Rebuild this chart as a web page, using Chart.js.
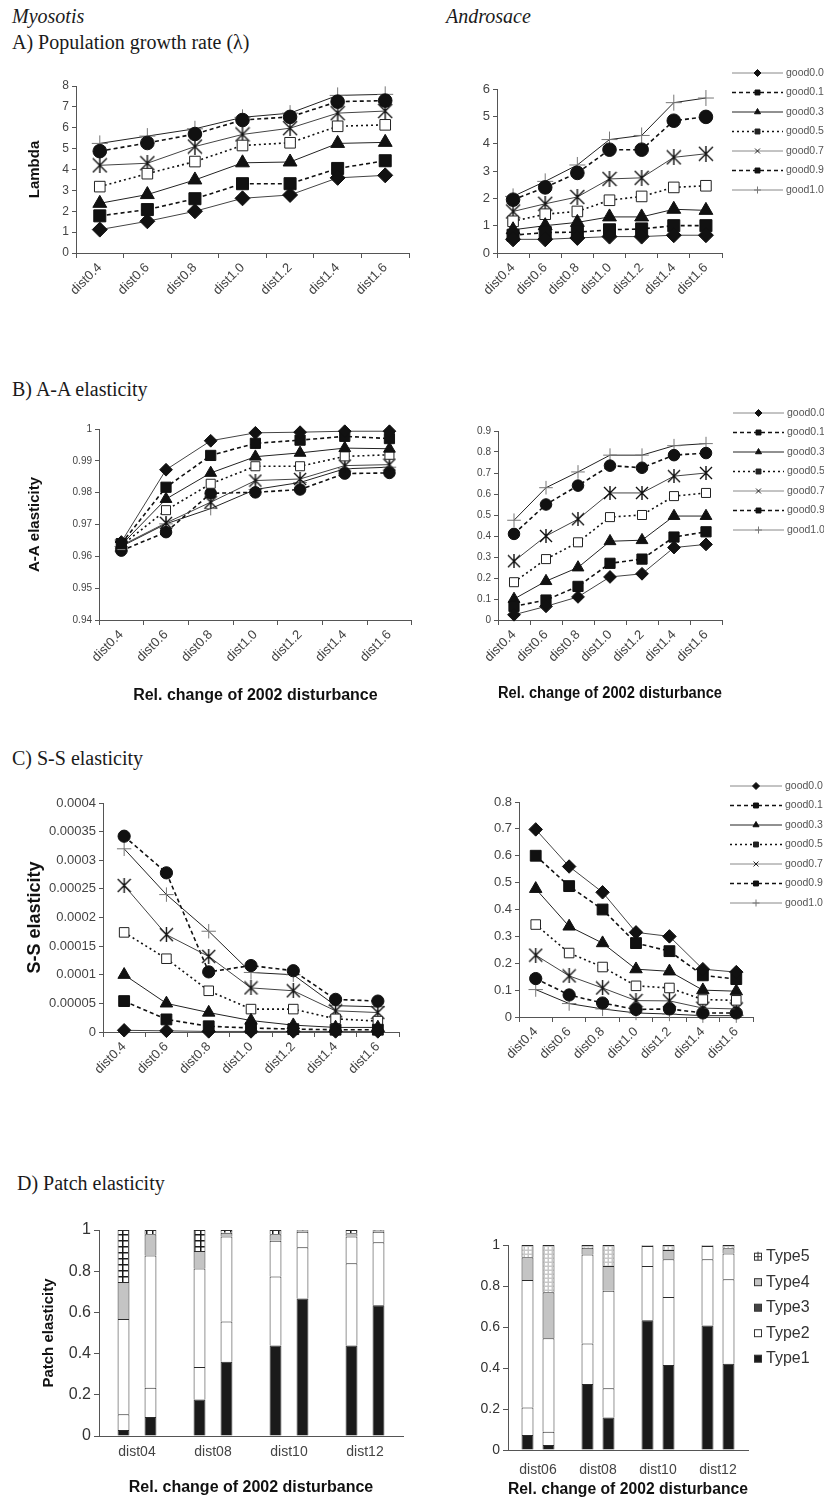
<!DOCTYPE html>
<html>
<head>
<meta charset="utf-8">
<script src="https://cdn.jsdelivr.net/npm/chart.js@4.4.0/dist/chart.umd.min.js"></script>
<style>
  body { margin: 0; background: #fff; width: 824px; height: 1499px; position: relative; overflow: hidden; }
  .t { position: absolute; font-family: "Liberation Serif", serif; font-size: 20px; line-height: 20px; color: #1a1a1a; white-space: nowrap; }
  .i { font-style: italic; }
  canvas { position: absolute; }
</style>
</head>
<body>
<div class="t i" style="left:12px;top:6px">Myosotis</div>
<div class="t i" style="left:446px;top:6px">Androsace</div>
<div class="t" style="left:12px;top:32px">A) Population growth rate (λ)</div>
<div class="t" style="left:12px;top:379px">B) A-A elasticity</div>
<div class="t" style="left:12px;top:748px">C) S-S elasticity</div>
<div class="t" style="left:17px;top:1173px">D) Patch elasticity</div>

<canvas id="aL" width="420" height="270" style="left:0px;top:60px"></canvas>
<canvas id="aR" width="404" height="270" style="left:420px;top:60px"></canvas>
<canvas id="bL" width="420" height="310" style="left:0px;top:400px"></canvas>
<canvas id="bR" width="404" height="310" style="left:420px;top:400px"></canvas>
<canvas id="cL" width="420" height="300" style="left:0px;top:780px"></canvas>
<canvas id="cR" width="404" height="300" style="left:420px;top:780px"></canvas>
<canvas id="dL" width="420" height="309" style="left:0px;top:1190px"></canvas>
<canvas id="dR" width="404" height="309" style="left:420px;top:1190px"></canvas>

<script>
// ---- data ----
const distLabels = ['dist0.4', 'dist0.6', 'dist0.8', 'dist1.0', 'dist1.2', 'dist1.4', 'dist1.6'];
const goodLabels = ['good0.0', 'good0.1', 'good0.3', 'good0.5', 'good0.7', 'good0.9', 'good1.0'];

// rows follow goodLabels
const myoLambda = [
  [1.12, 1.52, 2.0, 2.62, 2.78, 3.6, 3.72],
  [1.78, 2.08, 2.6, 3.32, 3.32, 4.05, 4.42],
  [2.38, 2.8, 3.5, 4.32, 4.36, 5.25, 5.3],
  [3.18, 3.8, 4.38, 5.15, 5.28, 6.07, 6.14],
  [4.2, 4.3, 5.1, 5.68, 5.98, 6.7, 6.8],
  [4.88, 5.27, 5.7, 6.37, 6.52, 7.25, 7.3],
  [5.25, 5.6, 5.95, 6.5, 6.7, 7.55, 7.6]
];
const andLambda = [
  [0.5, 0.5, 0.55, 0.6, 0.6, 0.65, 0.65],
  [0.65, 0.75, 0.76, 0.85, 0.88, 1.0, 1.0],
  [0.85, 1.0, 1.12, 1.32, 1.32, 1.6, 1.56],
  [1.16, 1.42, 1.52, 1.93, 2.07, 2.4, 2.46],
  [1.52, 1.8, 2.05, 2.71, 2.75, 3.5, 3.63],
  [1.95, 2.4, 2.93, 3.78, 3.78, 4.84, 4.98],
  [2.07, 2.62, 3.22, 4.15, 4.3, 5.5, 5.67]
];
const myoAA = [
  [0.9645, 0.9872, 0.9963, 0.9988, 0.999, 0.9993, 0.9993],
  [0.964, 0.9817, 0.9917, 0.9955, 0.9965, 0.9977, 0.997],
  [0.9636, 0.978, 0.9862, 0.9913, 0.9925, 0.994, 0.9938],
  [0.9634, 0.9745, 0.9828, 0.9883, 0.9883, 0.9914, 0.9919],
  [0.9634, 0.9705, 0.977, 0.9838, 0.9843, 0.9885, 0.9888],
  [0.9618, 0.9676, 0.9798, 0.9801, 0.981, 0.986, 0.9862],
  [0.9631, 0.9702, 0.975, 0.981, 0.9832, 0.9875, 0.988]
];
const andAA = [
  [0.025, 0.065, 0.11, 0.205, 0.22, 0.345, 0.36],
  [0.065, 0.095, 0.16, 0.27, 0.29, 0.395, 0.42],
  [0.1, 0.185, 0.25, 0.375, 0.38, 0.495, 0.495],
  [0.18, 0.29, 0.37, 0.49, 0.5, 0.59, 0.605],
  [0.28, 0.4, 0.48, 0.605, 0.605, 0.685, 0.7],
  [0.41, 0.55, 0.64, 0.735, 0.725, 0.785, 0.795],
  [0.475, 0.63, 0.705, 0.785, 0.785, 0.83, 0.84]
];
const myoSS = [
  [0.000003, 0.000002, 0.000001, 0.000001, 0.000001, 0.000001, 0.000001],
  [0.000054, 0.000022, 0.00001, 0.000007, 0.000005, 0.000004, 0.000004],
  [0.0001, 0.00005, 0.000034, 0.00002, 0.000012, 0.000008, 0.000008],
  [0.000174, 0.000128, 0.000072, 0.00004, 0.00004, 0.000023, 0.000019],
  [0.000256, 0.00017, 0.000132, 0.000077, 0.000072, 0.000037, 0.000034],
  [0.000342, 0.000278, 0.000105, 0.000116, 0.000107, 0.000057, 0.000054],
  [0.00032, 0.00024, 0.000176, 0.000104, 0.0001, 0.000046, 0.000044]
];
const andSS = [
  [0.698, 0.56, 0.464, 0.315, 0.3, 0.178, 0.167],
  [0.6, 0.487, 0.4, 0.275, 0.245, 0.155, 0.141],
  [0.477, 0.337, 0.275, 0.178, 0.17, 0.1, 0.096],
  [0.344, 0.238, 0.186, 0.116, 0.108, 0.065, 0.062],
  [0.23, 0.153, 0.108, 0.061, 0.06, 0.033, 0.03],
  [0.143, 0.082, 0.052, 0.028, 0.03, 0.015, 0.015],
  [0.102, 0.05, 0.03, 0.015, 0.011, 0.005, 0.005]
];

const typeLabels = ['Type1', 'Type2', 'Type3', 'Type4', 'Type5'];
const myoPatchCats = ['dist04', 'dist08', 'dist10', 'dist12'];
const andPatchCats = ['dist06', 'dist08', 'dist10', 'dist12'];
// eight bars left to right (two per category), rows follow typeLabels
const myoPatch = [
  [0.029, 0.092, 0.177, 0.360, 0.439, 0.668, 0.439, 0.635],
  [0.076, 0.142, 0.158, 0.196, 0.335, 0.248, 0.400, 0.305],
  [0.463, 0.642, 0.478, 0.412, 0.174, 0.076, 0.129, 0.052],
  [0.179, 0.103, 0.085, 0.019, 0.031, 0.004, 0.016, 0.004],
  [0.253, 0.021, 0.102, 0.013, 0.021, 0.004, 0.016, 0.004]
];
const andPatch = [
  [0.073, 0.024, 0.322, 0.158, 0.633, 0.415, 0.607, 0.421],
  [0.134, 0.065, 0.198, 0.143, 0.265, 0.331, 0.323, 0.412],
  [0.622, 0.456, 0.434, 0.476, 0.097, 0.184, 0.065, 0.126],
  [0.111, 0.224, 0.033, 0.121, 0.003, 0.046, 0.003, 0.025],
  [0.060, 0.231, 0.013, 0.102, 0.002, 0.024, 0.002, 0.016]
];

// ---- styles ----
const markStyles = ['rectRot', 'rect', 'triangle', 'rect', 'star', 'circle', 'cross'];
const markSizes = [7.5, 8.5, 8, 7.5, 8, 6.8, 8];
const markFills = ['#111', '#111', '#111', '#fff', '#111', '#111', '#777'];
const markEdges = ['#111', '#111', '#111', '#222', '#222', '#111', '#777'];
const lineColors = ['#444', '#111', '#222', '#111', '#444', '#111', '#222'];
const lineWidths = [1, 1.6, 1, 1.6, 1, 1.6, 1];
const lineDashes = [[], [4, 3], [], [2, 3], [], [4, 3], []];
const legendColors = ['#888', '#111', '#222', '#111', '#888', '#111', '#888'];
const legendPoints = ['rectRot', 'rect', 'triangle', 'rect', 'crossRot', 'rect', 'cross'];

Chart.defaults.font.family = '"Liberation Sans", Arial, sans-serif';

const lineLegend = {
  id: 'lineLegend',
  afterDraw(chart, args, opts) {
    if (!opts || !opts.show) return;
    const ctx = chart.ctx;
    chart.data.datasets.forEach((ds, i) => {
      const x = opts.x, y = opts.y + i * opts.gap;
      ctx.save();
      ctx.strokeStyle = ds.legendColor;
      ctx.lineWidth = ds.borderWidth;
      ctx.setLineDash(ds.borderDash);
      ctx.beginPath();
      ctx.moveTo(x, y);
      ctx.lineTo(x + opts.len, y);
      ctx.stroke();
      ctx.setLineDash([]);
      ctx.fillStyle = ds.legendMark;
      ctx.strokeStyle = ds.legendMark;
      ctx.lineWidth = 1;
      Chart.helpers.drawPoint(ctx, { pointStyle: ds.legendPoint, radius: 3.5, borderWidth: 1, rotation: 0 }, x + opts.len / 2, y);
      ctx.fillStyle = '#555';
      ctx.font = '10.5px "Liberation Sans"';
      ctx.textBaseline = 'middle';
      ctx.textAlign = 'left';
      ctx.fillText(ds.label, x + opts.len + 3, y);
      ctx.restore();
    });
  }
};

const boxLegend = {
  id: 'boxLegend',
  afterDraw(chart, args, opts) {
    if (!opts || !opts.show) return;
    const ctx = chart.ctx;
    const fills = ['#1a1a1a', '#fff', '#444', '#c4c4c4', '#fff'];
    for (let k = 0; k < typeLabels.length; k++) {
      const t = typeLabels.length - 1 - k;
      const x = opts.x, y = opts.y + k * opts.gap;
      ctx.save();
      ctx.fillStyle = fills[t];
      ctx.strokeStyle = '#333';
      ctx.lineWidth = 1;
      ctx.fillRect(x - 3.5, y - 3.5, 7, 7);
      ctx.strokeRect(x - 3.5, y - 3.5, 7, 7);
      if (t === 4) {
        ctx.beginPath();
        ctx.moveTo(x - 3.5, y); ctx.lineTo(x + 3.5, y);
        ctx.moveTo(x, y - 5); ctx.lineTo(x, y + 3.5);
        ctx.stroke();
      }
      ctx.fillStyle = '#333';
      ctx.font = '16px "Liberation Sans"';
      ctx.textBaseline = 'middle';
      ctx.fillText(typeLabels[t], x + 8, y);
      ctx.restore();
    }
  }
};

Chart.register(lineLegend, boxLegend);

// asterisk marker: an X with a vertical stroke
function starMark(size) {
  const c = document.createElement('canvas');
  c.width = c.height = size;
  const g = c.getContext('2d');
  g.strokeStyle = '#111';
  g.lineWidth = 1.4;
  g.beginPath();
  g.moveTo(1, 1); g.lineTo(size - 1, size - 1);
  g.moveTo(size - 1, 1); g.lineTo(1, size - 1);
  g.moveTo(size / 2, 0); g.lineTo(size / 2, size);
  g.stroke();
  return c;
}

function yTitle(text, size, pad) {
  if (!text) return { display: false };
  return { display: true, text: text, color: '#111', font: { size: size, weight: 'bold' }, padding: { top: pad, bottom: 0 } };
}

function xTitle(text, pad) {
  if (!text) return { display: false };
  return { display: true, text: text, color: '#111', font: { size: 16, weight: 'bold' }, padding: { top: 0, bottom: pad } };
}

function lineChart(id, rows, o) {
  const star = starMark(o.star);
  const datasets = rows.map((vals, i) => ({
    label: goodLabels[i],
    data: vals,
    borderColor: lineColors[i],
    borderWidth: lineWidths[i],
    borderDash: lineDashes[i],
    pointStyle: markStyles[i] === 'star' ? star : markStyles[i],
    pointRadius: markSizes[i] * o.mk,
    pointHoverRadius: markSizes[i] * o.mk,
    pointBackgroundColor: markFills[i],
    pointBorderColor: markEdges[i],
    pointBorderWidth: 1,
    legendColor: legendColors[i],
    legendPoint: legendPoints[i],
    legendMark: markEdges[i],
    tension: 0,
    clip: false
  }));
  return new Chart(document.getElementById(id), {
    type: 'line',
    data: { labels: distLabels, datasets: datasets },
    options: {
      responsive: false,
      animation: false,
      layout: { padding: { top: o.pt, right: o.pr, left: 0, bottom: 0 } },
      plugins: {
        legend: { display: false },
        tooltip: { enabled: false },
        lineLegend: o.legend || { show: false }
      },
      scales: {
        x: {
          offset: true,
          grid: { offset: true, drawOnChartArea: false, drawTicks: true, tickLength: 5, color: '#555' },
          border: { display: true, color: '#555' },
          ticks: { autoSkip: false, minRotation: 45, maxRotation: 45, padding: 2, color: '#444', font: { size: o.xfs } },
          title: xTitle(o.xt, o.xtp),
          afterFit: s => { s.height = o.xh; }
        },
        y: {
          min: o.min,
          max: o.max,
          grid: { drawOnChartArea: false, tickLength: 4, color: '#555' },
          border: { display: true, color: '#555' },
          ticks: { stepSize: o.step, padding: 3, color: '#444', font: { size: o.yfs }, callback: v => String(+v.toFixed(o.dec)) },
          title: yTitle(o.yt, o.ytfs, o.ytp),
          afterFit: s => { s.width = o.yw; }
        }
      }
    }
  });
}

function hatchFill(canvasId, dark) {
  const c = document.createElement('canvas');
  const g = c.getContext('2d');
  if (dark) {
    c.width = c.height = 6;
    g.fillStyle = '#fff'; g.fillRect(0, 0, 6, 6);
    g.fillStyle = '#1a1a1a';
    g.fillRect(0, 2, 6, 1.5);
    g.fillRect(2, 0, 1.5, 6);
  } else {
    c.width = c.height = 4;
    g.fillStyle = '#c8c8c8'; g.fillRect(0, 0, 4, 4);
    g.fillStyle = '#fff'; g.fillRect(1, 1, 2.5, 2.5);
  }
  return document.getElementById(canvasId).getContext('2d').createPattern(c, 'repeat');
}

function barChart(id, rows, cats, o) {
  const fills = ['#1a1a1a', '#fff', '#fff', '#c4c4c4', hatchFill(id, o.dark)];
  const datasets = [];
  ['a', 'b'].forEach((stk, s) => {
    rows.forEach((vals, t) => {
      datasets.push({
        label: typeLabels[t],
        stack: stk,
        data: vals.filter((v, j) => j % 2 === s),
        backgroundColor: fills[t],
        borderColor: '#2a2a2a',
        borderWidth: 1,
        barPercentage: o.bp,
        categoryPercentage: o.cp
      });
    });
  });
  return new Chart(document.getElementById(id), {
    type: 'bar',
    data: { labels: cats, datasets: datasets },
    options: {
      responsive: false,
      animation: false,
      layout: { padding: { top: o.pt, right: o.pr, left: 0, bottom: 0 } },
      plugins: {
        legend: { display: false },
        tooltip: { enabled: false },
        boxLegend: o.legend || { show: false }
      },
      scales: {
        x: {
          stacked: true,
          grid: { display: false, drawTicks: false },
          border: { display: true, color: '#555' },
          ticks: { padding: o.xpad, color: '#444', font: { size: 14 } },
          title: xTitle(o.xt, o.xtp),
          afterFit: s => { s.height = o.xh; }
        },
        y: {
          stacked: true,
          min: 0,
          max: 1,
          grid: { drawOnChartArea: false, tickLength: 5, color: '#555' },
          border: { display: true, color: '#555' },
          ticks: { stepSize: 0.2, padding: 3, color: '#333', font: { size: o.yfs }, callback: v => String(+v.toFixed(1)) },
          title: yTitle(o.yt, 15, o.ytp),
          afterFit: s => { s.width = o.yw; }
        }
      }
    }
  });
}

const relTitle = 'Rel. change of 2002 disturbance';

lineChart('aL', myoLambda, { pt: 26, pr: 11, yw: 76, xh: 77, min: 0, max: 8, step: 1, dec: 0, yfs: 12, xfs: 13, yt: 'Lambda', ytfs: 15, ytp: 26, mk: 1, star: 16 });
lineChart('aR', andLambda, { pt: 29, pr: 102, yw: 77, xh: 77, min: 0, max: 6, step: 1, dec: 0, yfs: 13, xfs: 13, mk: 1, star: 16,
  legend: { show: true, x: 312, y: 13, gap: 19.5, len: 51 } });
lineChart('bL', myoAA, { pt: 29, pr: 7, yw: 99, xh: 90, min: 0.94, max: 1, step: 0.01, dec: 2, yfs: 10, xfs: 13, yt: 'A-A elasticity', ytfs: 15, ytp: 26, xt: relTitle, xtp: 5, mk: 0.85, star: 14 });
lineChart('bR', andAA, { pt: 31, pr: 102, yw: 78, xh: 90, min: 0, max: 0.9, step: 0.1, dec: 1, yfs: 10, xfs: 13, xt: relTitle, xtp: 7, mk: 0.85, star: 14,
  legend: { show: true, x: 313, y: 13, gap: 19.5, len: 51 } });
lineChart('cL', myoSS, { pt: 23, pr: 21, yw: 103, xh: 48, min: 0, max: 0.0004, step: 0.00005, dec: 5, yfs: 13, xfs: 13, yt: 'S-S elasticity', ytfs: 18, ytp: 24, mk: 0.9, star: 15 });
lineChart('cR', andSS, { pt: 22, pr: 71, yw: 99, xh: 63, min: 0, max: 0.8, step: 0.1, dec: 1, yfs: 13, xfs: 13, mk: 0.9, star: 15,
  legend: { show: true, x: 310, y: 6, gap: 19.5, len: 52 } });
barChart('dL', myoPatch, myoPatchCats, { pt: 40, pr: 17, yw: 99, xh: 63, yfs: 16, xpad: 8, yt: 'Patch elasticity', ytp: 40, xt: relTitle, xtp: 2, bp: 0.44, cp: 0.71, dark: true });
barChart('dR', andPatch, andPatchCats, { pt: 55, pr: 76, yw: 88, xh: 49, yfs: 14, xpad: 12, xt: relTitle, xtp: 0, bp: 0.57, cp: 0.7, dark: false,
  legend: { show: true, x: 338, y: 66.7, gap: 25.5 } });
</script>
</body>
</html>
